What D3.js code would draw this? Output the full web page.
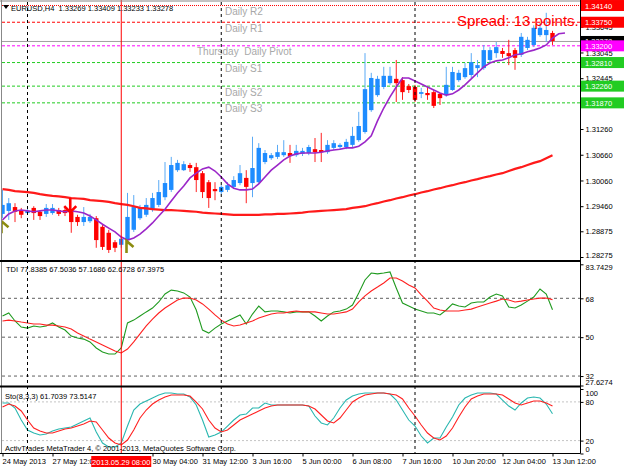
<!DOCTYPE html>
<html>
<head>
<meta charset="utf-8">
<script src="https://cdn.jsdelivr.net/npm/d3@7"></script>
<style>
  body { margin: 0; background: #fff; }
  svg text { font-family: "Liberation Sans", Arial, sans-serif; white-space: pre; }
</style>
</head>
<body>
<svg id="chart" width="625" height="469"></svg>
<script>
// EURUSD H4, 24 May - 13 Jun 2013
var open = [
  1.2928,1.2935,1.2944,1.2937,1.2930,1.2942,1.2933,1.2928,1.2930,1.2937,
  1.2937,1.2933,1.2921,1.2909,1.2911,1.2918,1.2898,1.2884,1.2862,1.2856,
  1.2867,1.2891,1.2918,1.2926,1.2937,1.2949,1.2967,1.2984,1.3030,1.3030,
  1.3042,1.3037,1.3023,1.3002,1.2986,1.2979,1.2984,1.2991,1.3000,1.3012,
  1.3000,1.3002,1.3049,1.3058,1.3061,1.3065,1.3070,1.3065,1.3068,1.3070,
  1.3079,1.3077,1.3072,1.3082,1.3084,1.3084,1.3089,1.3100,1.3119,1.3170,
  1.3205,1.3224,1.3233,1.3243,1.3240,1.3226,1.3224,1.3208,1.3210,1.3212,
  1.3208,1.3205,1.3217,1.3240,1.3247,1.3252,1.3268,1.3268,1.3287,1.3303,
  1.3308,1.3303,1.3310,1.3299,1.3315,1.3322,1.3345,1.3345,1.3350];
var high = [
  1.2984,1.2965,1.2953,1.2942,1.2939,1.2946,1.2937,1.2951,1.2951,1.2942,
  1.2942,1.2939,1.2926,1.2944,1.2928,1.2923,1.2902,1.2891,1.2867,1.2877,
  1.2977,1.2972,1.2949,1.2965,1.2977,1.3007,1.3049,1.3061,1.3054,1.3051,
  1.3047,1.3047,1.3028,1.3007,1.3002,1.2995,1.3002,1.3016,1.3042,1.3030,
  1.3108,1.3093,1.3077,1.3070,1.3089,1.3100,1.3089,1.3089,1.3082,1.3089,
  1.3105,1.3117,1.3100,1.3100,1.3093,1.3103,1.3131,1.3166,1.3303,1.3257,
  1.3250,1.3271,1.3271,1.3287,1.3247,1.3231,1.3229,1.3222,1.3224,1.3217,
  1.3210,1.3271,1.3271,1.3264,1.3280,1.3303,1.3287,1.3322,1.3317,1.3329,
  1.3315,1.3334,1.3315,1.3350,1.3341,1.3368,1.3373,1.3397,1.3355];
var low = [
  1.2918,1.2914,1.2909,1.2918,1.2926,1.2914,1.2914,1.2921,1.2926,1.2923,
  1.2923,1.2884,1.2900,1.2900,1.2907,1.2849,1.2844,1.2837,1.2839,1.2849,
  1.2862,1.2886,1.2914,1.2921,1.2933,1.2944,1.2960,1.2979,1.3026,1.3028,
  1.3026,1.2979,1.2965,1.2942,1.2960,1.2974,1.2979,1.2986,1.2995,1.2953,
  1.2967,1.2998,1.3044,1.3054,1.3056,1.3061,1.3047,1.3061,1.3063,1.3065,
  1.3049,1.3049,1.3068,1.3077,1.3079,1.3079,1.3084,1.3096,1.3115,1.3166,
  1.3201,1.3219,1.3229,1.3189,1.3194,1.3210,1.3189,1.3198,1.3194,1.3175,
  1.3182,1.3201,1.3215,1.3236,1.3243,1.3245,1.3247,1.3264,1.3282,1.3292,
  1.3292,1.3275,1.3264,1.3294,1.3310,1.3317,1.3341,1.3329,1.3322];
var close = [
  1.2949,1.2953,1.2933,1.2926,1.2935,1.2930,1.2923,1.2942,1.2942,1.2928,
  1.2930,1.2909,1.2909,1.2921,1.2921,1.2867,1.2851,1.2844,1.2849,1.2870,
  1.2921,1.2944,1.2942,1.2949,1.2965,1.2979,1.3000,1.3042,1.3047,1.3044,
  1.3035,1.3007,1.2979,1.2965,1.2981,1.2991,1.2995,1.3007,1.3023,1.2991,
  1.3035,1.3082,1.3070,1.3065,1.3072,1.3072,1.3063,1.3075,1.3075,1.3084,
  1.3072,1.3072,1.3089,1.3093,1.3089,1.3096,1.3110,1.3133,1.3219,1.3245,
  1.3243,1.3250,1.3250,1.3233,1.3212,1.3217,1.3194,1.3212,1.3205,1.3180,
  1.3198,1.3229,1.3259,1.3257,1.3268,1.3282,1.3275,1.3310,1.3310,1.3317,
  1.3301,1.3296,1.3292,1.3341,1.3334,1.3362,1.3362,1.3357,1.3331];

// purple MA (shifted 2 bars forward) and red slow MA
var maFast = [
  1.2914,1.2928,1.2935,1.2937,1.2935,1.2933,1.2935,1.2937,1.2937,1.2935,
  1.2933,1.2935,1.2933,1.2930,1.2923,1.2914,1.2904,1.2895,1.2886,1.2874,
  1.2867,1.2872,1.2881,1.2893,1.2907,1.2923,1.2939,1.2958,1.2977,1.2993,
  1.3012,1.3023,1.3033,1.3037,1.3028,1.3014,1.2998,1.2988,1.2984,1.2984,
  1.2986,1.2998,1.3014,1.3030,1.3042,1.3054,1.3063,1.3068,1.3070,1.3070,
  1.3070,1.3072,1.3075,1.3077,1.3079,1.3082,1.3082,1.3086,1.3096,1.3110,
  1.3145,1.3175,1.3201,1.3224,1.3245,1.3245,1.3238,1.3231,1.3224,1.3217,
  1.3210,1.3205,1.3208,1.3217,1.3229,1.3243,1.3257,1.3271,1.3280,1.3285,
  1.3287,1.3292,1.3299,1.3301,1.3306,1.3310,1.3315,1.3322,1.3338,1.3348,1.3350];
var maSlow = [
  1.2986,1.2984,1.2981,1.2980,1.2979,1.2977,1.2974,1.2972,1.2970,1.2969,
  1.2967,1.2965,1.2964,1.2963,1.2960,1.2959,1.2958,1.2956,1.2953,1.2951,
  1.2949,1.2946,1.2942,1.2941,1.2939,1.2938,1.2937,1.2937,1.2936,1.2935,
  1.2934,1.2933,1.2931,1.2930,1.2929,1.2928,1.2927,1.2926,1.2926,1.2926,
  1.2926,1.2926,1.2927,1.2927,1.2928,1.2928,1.2929,1.2930,1.2931,1.2933,
  1.2934,1.2935,1.2936,1.2937,1.2938,1.2939,1.2942,1.2944,1.2946,1.2950,
  1.2953,1.2957,1.2960,1.2964,1.2967,1.2971,1.2974,1.2978,1.2981,1.2985,
  1.2988,1.2992,1.2995,1.2999,1.3002,1.3006,1.3009,1.3013,1.3016,1.3020,
  1.3023,1.3028,1.3033,1.3037,1.3042,1.3047,1.3051,1.3058,1.3065];

// TDI: green price line and red signal line
var tdiPrice = [
  59.8,61.2,57.5,54.7,54.2,55.2,54.7,55.2,56.6,54.7,
  53.3,50.5,49.6,49.1,47.8,45.0,43.1,42.2,42.2,45.0,
  56.6,57.9,59.8,61.7,63.5,66.3,70.0,71.8,71.4,70.5,
  68.6,62.6,53.3,51.9,54.2,56.1,57.5,58.9,60.3,56.1,
  60.7,64.4,61.7,62.1,62.1,61.7,61.2,61.7,61.7,61.7,
  59.8,57.5,59.8,61.7,62.1,63.0,64.9,70.5,76.5,79.7,
  79.3,79.7,80.2,72.8,65.8,64.4,63.0,62.1,61.2,61.2,
  60.3,62.6,65.4,64.4,64.0,65.8,66.3,66.3,68.6,70.0,
  69.1,64.0,63.5,64.9,66.7,68.6,72.3,70.0,62.6728];
var tdiSignal = [
  57.5,57.9,57.5,57.0,56.6,56.1,56.1,55.6,55.6,55.2,
  54.7,53.8,51.9,50.5,49.1,47.8,46.4,45.0,43.6,42.7,
  44.5,47.8,51.5,55.2,58.4,61.2,63.5,65.4,67.2,68.1,
  68.1,67.2,65.4,63.0,60.3,57.9,56.1,55.2,55.6,56.6,
  57.5,58.9,59.8,60.7,61.2,61.2,61.7,62.1,61.7,61.7,
  61.7,61.2,60.7,60.7,61.2,61.7,63.0,66.3,69.1,71.4,
  73.2,75.1,77.4,77.4,76.0,74.2,72.8,69.6,66.7,63.5,
  62.6,62.1,62.1,62.1,62.6,63.0,64.0,64.9,65.8,66.7,
  67.7,67.2,66.3,66.7,67.2,67.7,68.1,68.1,67.3975];

// Stochastic(8,3,3)
var stoMain = [
  78.3,78.3,70.5,51.9,36.4,31.8,28.7,30.2,34.9,38.0,
  39.5,41.1,45.7,50.4,55.0,33.3,16.3,10.1,10.1,16.3,
  42.6,67.4,76.7,81.4,86.0,90.7,93.8,93.8,92.2,92.2,
  87.6,75.2,51.9,25.6,28.7,33.3,42.6,51.9,59.7,61.2,
  70.5,70.5,78.3,75.2,75.2,75.2,75.2,75.2,75.2,73.6,
  58.1,47.3,44.2,55.0,70.5,82.9,89.1,92.2,93.8,93.8,
  93.8,93.8,92.2,82.9,67.4,51.9,42.6,27.1,16.3,24.0,
  24.0,41.1,56.6,75.2,86.0,90.7,93.8,93.8,93.8,92.2,
  82.9,73.6,67.4,78.3,86.0,87.6,86.0,76.7,61.7039];
var stoSignal = [
  72.1,76.7,73.6,65.9,51.9,39.5,34.9,31.8,31.8,34.9,
  38.0,39.5,42.6,45.7,50.4,48.8,36.4,24.0,16.3,13.2,
  20.9,36.4,55.0,67.4,76.7,82.9,87.6,90.7,90.7,90.7,
  89.1,79.8,69.0,51.9,39.5,33.3,36.4,44.2,51.9,56.6,
  61.2,65.9,70.5,73.6,75.2,75.2,75.2,75.2,75.2,73.6,
  69.0,59.7,50.4,47.3,55.0,67.4,79.8,86.0,90.7,92.2,
  93.8,93.8,92.2,90.7,84.5,70.5,58.1,44.2,31.8,24.0,
  20.9,27.1,39.5,56.6,72.1,84.5,89.1,92.2,92.2,92.2,
  90.7,84.5,78.3,75.2,78.3,81.4,81.4,78.3,73.5147];

var priceTicks = [1.33645, 1.33045, 1.32445, 1.31260, 1.30660, 1.30060, 1.29460, 1.28875, 1.28275];
var tdiTicks = [83.7429, 68, 50, 32, 27.6274];
var tdiLevels = [68, 50, 32];
var stoTicks = [100, 80, 20, 0];
var stoLevels = [80, 20];

var timeTickBars = [0, 8, 24, 32, 40, 48, 56, 64, 72, 80, 88];
var timeTickLabels = ['24 May 2013', '27 May 12:00', '30 May 04:00', '31 May 12:00', '3 Jun 16:00',
  '5 Jun 00:00', '6 Jun 08:00', '7 Jun 16:00', '10 Jun 20:00', '12 Jun 04:00', '13 Jun 12:00'];
var cursorBar = 19, cursorLabel = '2013.05.29 08:00';
var separatorBars = [4, 35, 66];

var levelNames = ['Daily R2', 'Daily R1', 'Thursday  Daily Pivot', 'Daily S1', 'Daily S2', 'Daily S3'];
var levelPrices = [1.34140, 1.33750, 1.33200, 1.32810, 1.32260, 1.31870];
var bidPrice = 1.33278;
var headerOHLC = [1.33269, 1.33409, 1.33233, 1.33278];
var tdiHeader = [77.8385, 67.5036, 57.1686, 62.6728, 67.3975];
var buyArrows = [{bar: 0, price: 1.2911}, {bar: 20, price: 1.2865}];
var sellArrows = [{bar: 11, price: 1.2965}];

// ---------- drawing ----------
var svg = d3.select('#chart');
var axisX = 580.5;
var fs = 7.5;
var levelColor = ['#ff0000', '#ff0000', '#ff00ff', '#22cc22', '#22cc22', '#22cc22'];
var levelDash = ['1,1', '3,2', '3,2', '3,2', '3,2', '3,2'];

var x = d3.scaleLinear().domain([0, 88]).range([2.5, 552.5]);
var yP = d3.scaleLinear().domain([1.28252, 1.34222]).range([258, 2]);
var yT = d3.scaleLinear().domain([27.6274, 83.7429]).range([385.5, 264.3]);
var yS = d3.scaleLinear().domain([0, 100]).range([453.5, 389]);

svg.append('rect').attr('width', 625).attr('height', 469).attr('fill', '#fff');

var defs = svg.append('defs');
[['clipMain', 2, 259], ['clipTdi', 262, 385.5], ['clipSto', 388, 453]].forEach(function (c) {
  defs.append('clipPath').attr('id', c[0]).append('rect')
    .attr('x', 2).attr('y', c[1]).attr('width', axisX - 2).attr('height', c[2] - c[1]);
});

var main = svg.append('g').attr('clip-path', 'url(#clipMain)');
var tdi = svg.append('g').attr('clip-path', 'url(#clipTdi)');
var sto = svg.append('g').attr('clip-path', 'url(#clipSto)');

// pivot levels
levelPrices.forEach(function (p, i) {
  main.append('line').attr('x1', 2).attr('x2', axisX)
    .attr('y1', yP(p)).attr('y2', yP(p))
    .attr('stroke', levelColor[i]).attr('stroke-dasharray', levelDash[i]);
  main.append('text').attr('x', i === 2 ? 197 : 225).attr('y', yP(p) + 9.5)
    .attr('font-size', 10).attr('fill', '#a8a8a8').text(levelNames[i]);
});
main.append('line').attr('x1', 2).attr('x2', axisX)
  .attr('y1', yP(bidPrice) - 1).attr('y2', yP(bidPrice) - 1).attr('stroke', '#a0a0a0');

// period separators
separatorBars.forEach(function (b) {
  svg.append('line').attr('x1', x(b)).attr('x2', x(b)).attr('y1', 2).attr('y2', 453)
    .attr('stroke', '#000').attr('stroke-dasharray', '3,3');
});

// candles
var idx = d3.range(open.length);
main.selectAll('.wick').data(idx).enter().append('line')
  .attr('x1', function (i) { return x(i); }).attr('x2', function (i) { return x(i); })
  .attr('y1', function (i) { return yP(high[i]); }).attr('y2', function (i) { return yP(low[i]); })
  .attr('stroke', function (i) { return close[i] >= open[i] ? '#5aaaf5' : '#ff2020'; });
main.selectAll('.body').data(idx).enter().append('rect')
  .attr('x', function (i) { return x(i) - 2.2; }).attr('width', 4.4)
  .attr('y', function (i) { return yP(Math.max(open[i], close[i])); })
  .attr('height', function (i) { return Math.max(1.2, Math.abs(yP(open[i]) - yP(close[i]))); })
  .attr('fill', function (i) { return close[i] >= open[i] ? '#1e8cff' : '#ff0000'; });

// moving averages
var line = function (ys) {
  return d3.line().x(function (d, i) { return x(i); }).y(function (d) { return ys(d); });
};
main.append('path').datum(maSlow).attr('d', line(yP)).attr('fill', 'none')
  .attr('stroke', '#ff1a1a').attr('stroke-width', 2.2);
main.append('path').datum(maFast).attr('d', line(yP)).attr('fill', 'none')
  .attr('stroke', '#9b27c8').attr('stroke-width', 1.6);

// arrows
buyArrows.forEach(function (a) {
  var ax = x(a.bar), ay = yP(a.price);
  main.append('path').attr('d', 'M' + (ax - 1) + ',' + (ay + 12) + 'V' + ay + 'L' + (ax + 6) + ',' + (ay + 6))
    .attr('fill', 'none').attr('stroke', '#8c8c10').attr('stroke-width', 2.6);
});
sellArrows.forEach(function (a) {
  var ax = x(a.bar) - 1, ay = yP(a.price);
  main.append('path').attr('d', 'M' + ax + ',' + ay + 'V' + (ay + 15) +
      'M' + (ax - 6) + ',' + (ay + 8) + 'L' + ax + ',' + (ay + 14) + 'L' + (ax + 6) + ',' + (ay + 8))
    .attr('fill', 'none').attr('stroke', '#ff0000').attr('stroke-width', 2.6);
});

// TDI panel
tdiLevels.forEach(function (v) {
  tdi.append('line').attr('x1', 2).attr('x2', axisX).attr('y1', yT(v)).attr('y2', yT(v))
    .attr('stroke', '#606060').attr('stroke-dasharray', '3,3');
});
tdi.append('path').datum(tdiPrice).attr('d', line(yT)).attr('fill', 'none')
  .attr('stroke', '#1f9a1f').attr('stroke-width', 1.1);
tdi.append('path').datum(tdiSignal).attr('d', line(yT)).attr('fill', 'none')
  .attr('stroke', '#ff2020').attr('stroke-width', 1.1);

// Stochastic panel
stoLevels.forEach(function (v) {
  sto.append('line').attr('x1', 2).attr('x2', axisX).attr('y1', yS(v)).attr('y2', yS(v))
    .attr('stroke', '#c4c4c4').attr('stroke-dasharray', '2,2');
});
sto.append('path').datum(stoMain).attr('d', line(yS)).attr('fill', 'none')
  .attr('stroke', '#2ab7b0').attr('stroke-width', 1.1);
sto.append('path').datum(stoSignal).attr('d', line(yS)).attr('fill', 'none')
  .attr('stroke', '#ff2020').attr('stroke-width', 1.1);

// cursor line on top
svg.append('line').attr('x1', x(cursorBar)).attr('x2', x(cursorBar)).attr('y1', 0).attr('y2', 453)
  .attr('stroke', '#ff0000');

// frames
svg.append('line').attr('x1', 1.5).attr('x2', 1.5).attr('y1', 0).attr('y2', 454).attr('stroke', '#888');
svg.append('line').attr('x1', 0).attr('x2', axisX).attr('y1', 1).attr('y2', 1).attr('stroke', '#888');
[261, 386.5].forEach(function (yy) {
  svg.append('line').attr('x1', 0).attr('x2', axisX).attr('y1', yy).attr('y2', yy)
    .attr('stroke', '#000').attr('stroke-width', 2);
});
svg.append('line').attr('x1', 0).attr('x2', axisX).attr('y1', 453.5).attr('y2', 453.5).attr('stroke', '#000');
svg.append('line').attr('x1', axisX).attr('x2', axisX).attr('y1', 0).attr('y2', 453.5).attr('stroke', '#000');

// right axes
function rightAxis(scale, ticks, fmt, top, bottom) {
  var g = svg.append('g').attr('transform', 'translate(' + axisX + ',0)')
    .call(d3.axisRight(scale).tickValues(ticks).tickFormat(fmt).tickSize(3).tickPadding(2));
  g.select('.domain').remove();
  g.attr('font-family', null).attr('font-size', fs);
  g.selectAll('line').attr('stroke', '#000');
  g.selectAll('text').attr('fill', '#000').attr('dy', function (d) {
    var y0 = scale(d), yc = Math.max(top + 5, Math.min(bottom - 4, y0));
    return (yc - y0 + 2.7) + 'px';
  });
}
rightAxis(yP, priceTicks, d3.format('.5f'), 2, 259);
rightAxis(yT, tdiTicks, function (d) { return d % 1 === 0 ? d : d3.format('.4f')(d); }, 262, 386);
rightAxis(yS, stoTicks, d3.format('d'), 388, 453);

// level price tags
var tagPrices = levelPrices.slice(0, 2).concat([bidPrice]).concat(levelPrices.slice(2));
var tagColors = levelColor.slice(0, 2).concat(['#000']).concat(levelColor.slice(2));
tagPrices.forEach(function (p, i) {
  var yy = yP(p) - (p === bidPrice ? 1 : 0);
  svg.append('rect').attr('x', 581).attr('y', yy - 5.5).attr('width', 43).attr('height', 11)
    .attr('fill', tagColors[i]);
  svg.append('text').attr('x', 585).attr('y', yy + 3).attr('font-size', fs).attr('fill', '#fff')
    .text(d3.format('.5f')(p));
});

// time axis
var gx = svg.append('g').attr('transform', 'translate(0,453.5)')
  .call(d3.axisBottom(x).tickValues(timeTickBars)
    .tickFormat(function (d, i) { return timeTickLabels[i]; }).tickSize(3).tickPadding(2));
gx.select('.domain').remove();
gx.attr('font-family', null).attr('font-size', fs);
gx.selectAll('line').attr('stroke', '#000');
gx.selectAll('text').attr('fill', '#000').attr('text-anchor', 'start').attr('dx', -0.5);
svg.append('rect').attr('x', x(cursorBar) - 30).attr('y', 456).attr('width', 60).attr('height', 11)
  .attr('fill', '#ff0000');
svg.append('text').attr('x', x(cursorBar)).attr('y', 464.5).attr('text-anchor', 'middle')
  .attr('font-size', fs).attr('fill', '#fff').text(cursorLabel);

// header texts
svg.append('path').attr('d', 'M3,5H9L6,9Z').attr('fill', '#000');
svg.append('text').attr('x', 11).attr('y', 11).attr('font-size', fs)
  .text('EURUSD,H4  ' + headerOHLC.map(d3.format('.5f')).join(' '));
svg.append('text').attr('x', 457).attr('y', 26).attr('font-size', 15).attr('fill', '#ff0000')
  .text('Spread: 13 points.');
svg.append('text').attr('x', 6).attr('y', 272).attr('font-size', fs)
  .text('TDI ' + tdiHeader.map(d3.format('.4f')).join(' '));
svg.append('text').attr('x', 5).attr('y', 399).attr('font-size', fs)
  .text('Sto(8,3,3) ' + d3.format('.4f')(stoMain[stoMain.length - 1]) + ' ' + d3.format('.4f')(stoSignal[stoSignal.length - 1]));
svg.append('text').attr('x', 5).attr('y', 451).attr('font-size', fs)
  .text('ActivTrades MetaTrader 4, \u00a9 2001-2013, MetaQuotes Software Corp.');
</script>
</body>
</html>
